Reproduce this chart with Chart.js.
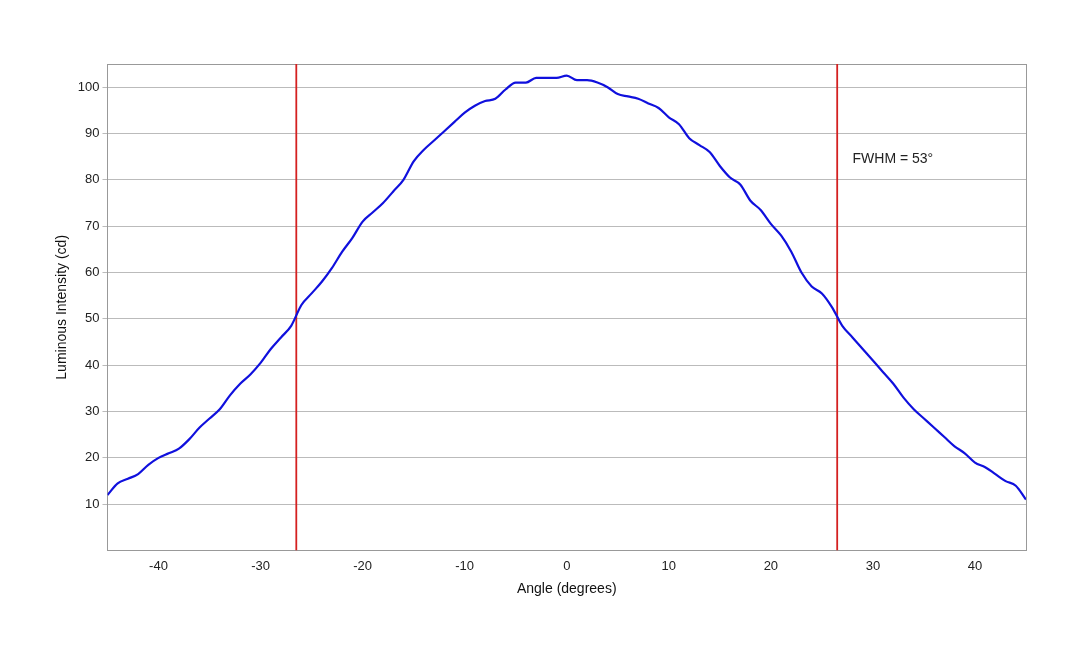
<!DOCTYPE html>
<html><head><meta charset="utf-8">
<script src="https://cdn.jsdelivr.net/npm/chart.js@4"></script>
<style>body{margin:0;background:#fff}#w{width:1080px;height:648px}</style>
</head><body><div id="w"><canvas id="c"></canvas></div>
<script>
const angles = [];
for (let a = -45; a <= 45; a++) angles.push(a);
const intensity = [12,14.5,15.5,16.5,18.5,20,21,22,24,26.5,28.5,30.5,33.5,36,38,40.5,43.5,46,48.5,53,55.5,58,61,64.5,67.5,71,73,75,77.5,80,84,86.5,88.5,90.5,92.5,94.5,96,97,97.5,99.5,101,101,102,102,102,102.5,101.5,101.5,101,100,98.5,98,97.5,96.5,95.5,93.5,92,89,87.5,86,83,80.5,79,75.5,73.5,70.5,68,64.5,60,57,55.5,52.5,48.5,46,43.5,41,38.5,36,33,30.5,28.5,26.5,24.5,22.5,21,19,18,16.5,15,14,11];
const fwhmLines = [-26.5, 26.5];
const xTicks = [-40,-30,-20,-10,0,10,20,30,40];
const yTicks = [10,20,30,40,50,60,70,80,90,100];
const label = "FWHM = 53°";

const textPlugin = {id:'t', afterDraw(ch){
  const c=ch.ctx, x=ch.scales.x, y=ch.scales.y;
  c.save(); c.font='14px "Liberation Sans", Arial'; c.fillStyle='#222'; c.textBaseline='middle';
  c.fillText(label, x.getPixelForValue(28), y.getPixelForValue(84.5)); c.restore();
}};
new Chart(document.getElementById('c'), {
  type:'line',
  data:{datasets:[
    {data:angles.map((a,i)=>({x:a,y:intensity[i]})), borderColor:'#1010dd', borderWidth:2.2, pointRadius:0, tension:0.4, cubicInterpolationMode:'monotone'},
    ...fwhmLines.map(v=>({data:[{x:v,y:0},{x:v,y:105}], borderColor:'#d42020', borderWidth:1.8, pointRadius:0}))
  ]},
  options:{animation:false, responsive:true, maintainAspectRatio:false,
    layout:{padding:{left:50,right:54,top:64,bottom:46}},
    plugins:{legend:{display:false}, tooltip:{enabled:false}},
    scales:{
      x:{type:'linear', min:-45, max:45, afterBuildTicks:s=>{s.ticks=xTicks.map(v=>({value:v}))},
        grid:{display:false, drawTicks:true, tickLength:5}, border:{color:'#999'},
        ticks:{color:'#222', font:{size:13, family:'"Liberation Sans", Arial'}},
        title:{display:true, text:'Angle (degrees)', color:'#111', font:{size:14, family:'"Liberation Sans", Arial'}}},
      y:{min:0, max:105, afterBuildTicks:s=>{s.ticks=yTicks.map(v=>({value:v}))},
        grid:{color:'#bbb', tickLength:5}, border:{color:'#999'},
        ticks:{color:'#222', font:{size:13, family:'"Liberation Sans", Arial'}},
        title:{display:true, text:'Luminous Intensity (cd)', color:'#111', font:{size:14, family:'"Liberation Sans", Arial'}}},
      x2:{type:'linear', position:'top', min:-45,max:45, grid:{display:false,drawTicks:false}, ticks:{display:false}, border:{color:'#999'}},
      y2:{position:'right', min:0,max:105, grid:{display:false,drawTicks:false}, ticks:{display:false}, border:{color:'#999'}}
    }}
  , plugins:[textPlugin]});
</script></body></html>
